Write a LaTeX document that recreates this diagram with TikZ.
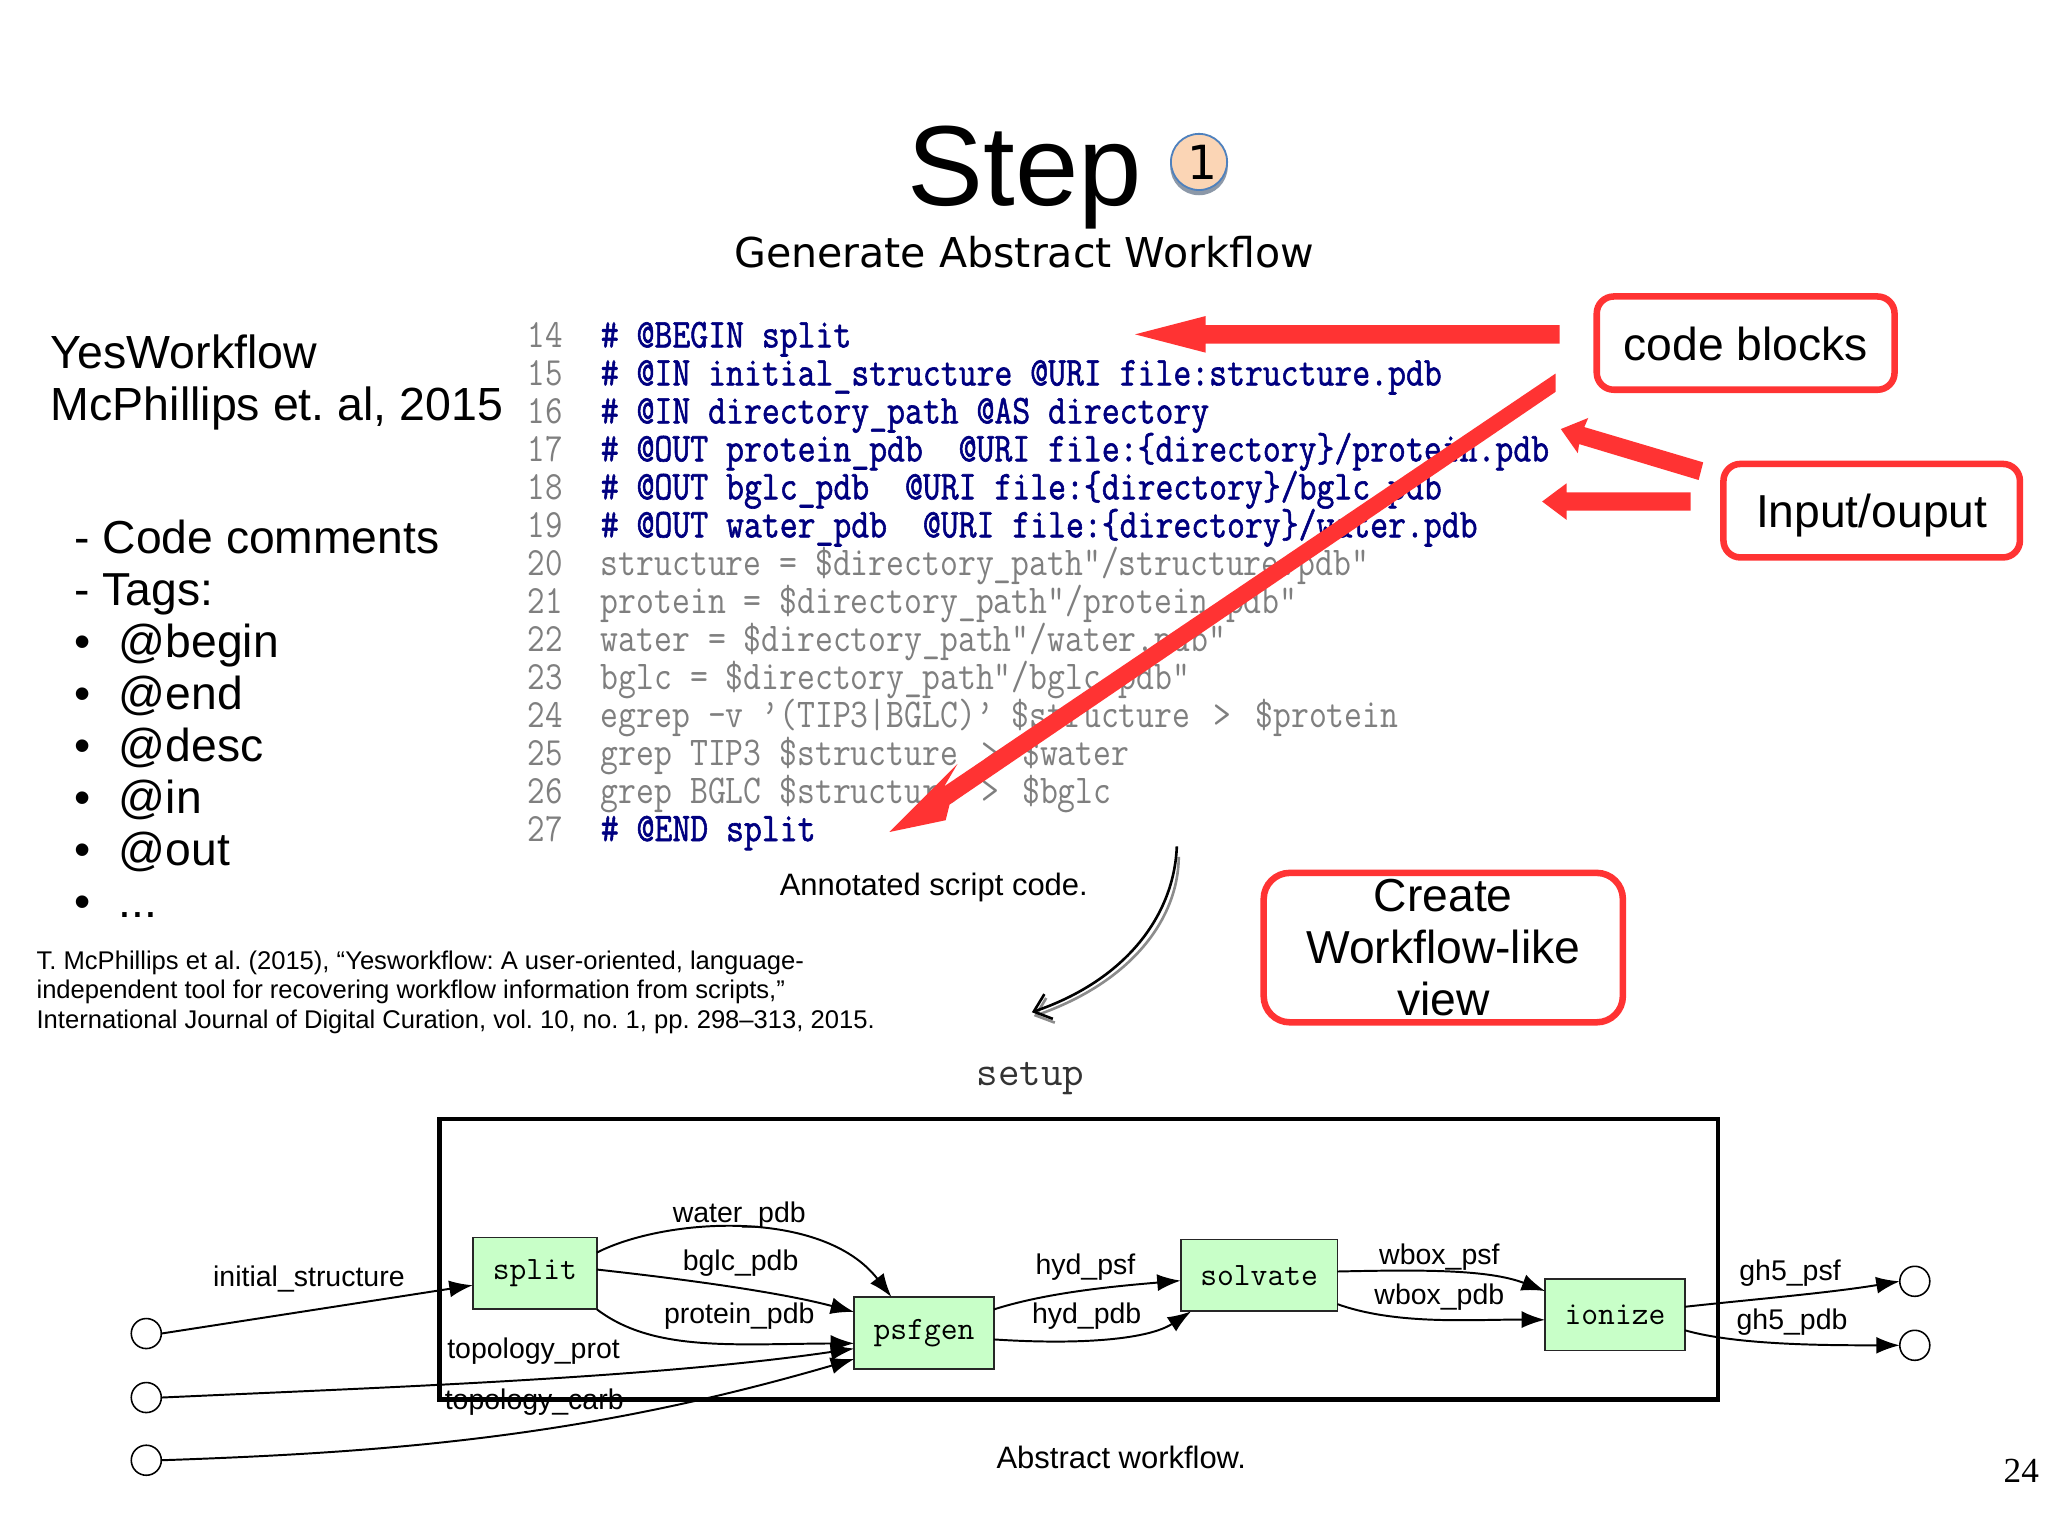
\documentclass[tikz,border=0pt]{standalone}
\usepackage{fontspec}
\setmainfont{Liberation Sans}
\newfontfamily\serifnum{Liberation Serif}
\newfontfamily\dejavu{DejaVu Sans}
\newfontfamily\codeheavy[FakeBold=1.5]{Latin Modern Mono}
\newcommand\tallcode[1]{\scalebox{1}[1.18]{#1}}
\usetikzlibrary{arrows.meta,calc}
\definecolor{redmark}{HTML}{FF3333}
\definecolor{navycode}{HTML}{000080}
\definecolor{greycode}{HTML}{7F7F7F}
\definecolor{greenbox}{HTML}{C8FFC8}
\definecolor{badgeshadow}{HTML}{8C98A8}
\definecolor{badgeline}{HTML}{4F81BD}
\definecolor{badgefill}{HTML}{FBD5B5}
\tikzset{
  txt/.style={inner sep=0pt,outer sep=0pt,anchor=base west,text=black},
  cnum/.style={txt,font=\fontsize{13}{15}\selectfont\ttfamily,text=greycode},
  cblue/.style={txt,font=\fontsize{13.3}{15}\selectfont\codeheavy,text=navycode},
  cgrey/.style={txt,font=\fontsize{13.28}{15}\selectfont\ttfamily,text=greycode},
  elab/.style={inner sep=0pt,outer sep=0pt,anchor=base,font=\fontsize{10.9}{12}\selectfont,text=black},
  wfnode/.style={draw=black!85,fill=greenbox,line width=0.7pt,inner sep=0pt,outer sep=0pt,minimum height=27.5pt,font=\fontsize{12.5}{14}\selectfont\ttfamily},
  port/.style={draw=black,fill=white,circle,line width=0.6pt,minimum size=11.5pt,inner sep=0pt,outer sep=0pt},
  flow/.style={line width=0.75pt,draw=black,-{Latex[length=9pt,width=6.5pt]}},
  redbox/.style={draw=redmark,line width=2.5pt,rounded corners=6.5pt,inner sep=0pt,outer sep=0pt,text=black,font=\fontsize{17.7}{20}\selectfont,align=center},
  redarrow/.style={fill=redmark,draw=none},
}
\frenchspacing
\begin{document}
\begin{tikzpicture}[x=0.5pt,y=-0.5pt]
\useasboundingbox[fill=white] (0,0) rectangle (1568,1175.2);
% title
\node[txt,font=\fontsize{43.6}{46}\selectfont] (title) at (695,157) {Step};
\fill[badgeshadow] (918,127.5) circle[radius=11pt];
\node[circle,draw=badgeline,fill=badgefill,line width=0.7pt,minimum size=21.5pt,inner sep=0pt,font=\fontsize{18}{20}\selectfont\dejavu] (badge) at (918,124) {\hspace{3pt}1};
\node[txt,anchor=base,font=\fontsize{15.74}{18}\selectfont\dejavu] (subtitle) at (784,205) {Generate Abstract Workflow};
% left text
\node[txt,anchor=north west,align=left,font=\fontsize{17.8}{20}\selectfont] (cite) at (39,256) {YesWorkflow\\McPhillips et. al, 2015};
\node[txt,anchor=north west,align=left,font=\fontsize{17.7}{19.9}\selectfont] (tags) at (57,398) {- Code comments\\- Tags:\\\makebox[17pt][l]{•}@begin\\\makebox[17pt][l]{•}@end\\\makebox[17pt][l]{•}@desc\\\makebox[17pt][l]{•}@in\\\makebox[17pt][l]{•}@out\\\makebox[17pt][l]{•}...};
\node[txt,anchor=north west,align=left,font=\fontsize{9.8}{11.25}\selectfont] (refs) at (28,728) {T. McPhillips et al. (2015), “Yesworkflow: A user-oriented, language-\\independent tool for recovering workflow information from scripts,”\\International Journal of Digital Curation, vol. 10, no. 1, pp. 298–313, 2015.};
% code
\node[cnum] (n14) at (404,266) {\tallcode{14}};
\node[cnum] (n15) at (404,295.1) {\tallcode{15}};
\node[cnum] (n16) at (404,324.2) {\tallcode{16}};
\node[cnum] (n17) at (404,353.2) {\tallcode{17}};
\node[cnum] (n18) at (404,382.3) {\tallcode{18}};
\node[cnum] (n19) at (404,411.4) {\tallcode{19}};
\node[cnum] (n20) at (404,440.5) {\tallcode{20}};
\node[cnum] (n21) at (404,469.6) {\tallcode{21}};
\node[cnum] (n22) at (404,498.6) {\tallcode{22}};
\node[cnum] (n23) at (404,527.7) {\tallcode{23}};
\node[cnum] (n24) at (404,556.8) {\tallcode{24}};
\node[cnum] (n25) at (404,585.9) {\tallcode{25}};
\node[cnum] (n26) at (404,615) {\tallcode{26}};
\node[cnum] (n27) at (404,644) {\tallcode{27}};
\node[cblue] (c14) at (460,266) {\tallcode{\# @BEGIN split}};
\node[cblue] (c15) at (460,295.1) {\tallcode{\# @IN initial\_structure @URI file:structure.pdb}};
\node[cblue] (c16) at (460,324.2) {\tallcode{\# @IN directory\_path @AS directory}};
\node[cblue] (c17) at (460,353.2) {\tallcode{\# @OUT protein\_pdb\ \ @URI file:\{directory\}/protein.pdb}};
\node[cblue] (c18) at (460,382.3) {\tallcode{\# @OUT bglc\_pdb\ \ @URI file:\{directory\}/bglc.pdb}};
\node[cblue] (c19) at (460,411.4) {\tallcode{\# @OUT water\_pdb\ \ @URI file:\{directory\}/water.pdb}};
\node[cgrey] (c20) at (460,440.5) {\tallcode{structure = \$directory\_path"/structure.pdb"}};
\node[cgrey] (c21) at (460,469.6) {\tallcode{protein = \$directory\_path"/protein.pdb"}};
\node[cgrey] (c22) at (460,498.6) {\tallcode{water = \$directory\_path"/water.pdb"}};
\node[cgrey] (c23) at (460,527.7) {\tallcode{bglc = \$directory\_path"/bglc.pdb"}};
\node[cgrey] (c24) at (460,556.8) {\tallcode{egrep —v ’(TIP3|BGLC)’ \$structure\hspace{2.2pt} > \hspace{2.2pt}\$protein}};
\node[cgrey] (c25) at (460,585.9) {\tallcode{grep TIP3 \$structure\hspace{2pt} > \hspace{2pt}\$water}};
\node[cgrey] (c26) at (460,615) {\tallcode{grep BGLC \$structure\hspace{2pt} > \hspace{2pt}\$bglc}};
\node[cblue] (c27) at (460,644) {\tallcode{\# @END split}};
% red arrows
\fill[redarrow] (1194,249) -- (923,249) -- (923,242) -- (869,256) -- (923,270) -- (923,263) -- (1194,263) -- cycle;
\fill[redarrow] (1191,286) -- (723,602) -- (733,585) -- (681,637) -- (724,628) -- (727,616) -- (1191,300) -- cycle;
\fill[redarrow] (1304,354) -- (1213,327) -- (1216,320) -- (1195,328.5) -- (1208,347) -- (1209,340) -- (1300.5,367.5) -- cycle;
\fill[redarrow] (1294.4,377) -- (1199.4,377) -- (1199.4,370) -- (1180.7,384) -- (1199.4,398) -- (1199.4,391) -- (1294.4,391) -- cycle;
% red boxes
\node[redbox,minimum width=114pt,minimum height=35.7pt] (codeblocks) at (1336.5,262.7) {\raisebox{-6.5pt}[0pt][0pt]{code blocks}};
\node[redbox,minimum width=113.5pt,minimum height=35.8pt] (inout) at (1433,391) {\raisebox{-6.5pt}[0pt][0pt]{Input/ouput}};
\node[redbox,rounded corners=10pt,minimum width=137.5pt,minimum height=57.2pt] (create) at (1105,725.5) {Create\\Workflow-like\\view};
% captions
\node[txt,font=\fontsize{11.85}{14}\selectfont] (cap1) at (597,686) {Annotated script code.};
\node[txt,font=\fontsize{11.85}{14}\selectfont] (cap2) at (763,1124) {Abstract workflow.};
\node[txt,anchor=base,font=\fontsize{16}{18}\selectfont\ttfamily,text=black!80] (setup) at (789,831) {setup};
\node[txt,font=\fontsize{13.5}{15}\selectfont\serifnum] (page) at (1534,1135) {24};
% curved arrow
\coordinate (cs) at (901,648);
\coordinate (ce) at (790,775);
\draw[black!45,line width=1pt,-{Straight Barb[length=6pt,width=10pt]}] ($(cs)+(1.5,8)$) .. controls (902,704) and (866,752) .. ($(ce)+(1.5,3)$);
\draw[black,line width=1pt,-{Straight Barb[length=6pt,width=10pt]}] (cs) .. controls (899,700) and (863,750) .. (ce);
% workflow
\draw[black,line width=1.6pt] (336.5,856.5) rectangle (1315.5,1071.5);
\node[port] (i1) at (112,1021) {};
\node[port] (i2) at (112,1070) {};
\node[port] (i3) at (112,1118) {};
\node[port] (o1) at (1466,981) {};
\node[port] (o2) at (1466,1030) {};
\node[wfnode,minimum width=47.5pt] (split) at (409.5,975) {split};
\node[wfnode,minimum width=53.5pt] (psfgen) at (707.5,1020.5) {psfgen};
\node[wfnode,minimum width=60pt] (solvate) at (964,976.5) {solvate};
\node[wfnode,minimum width=53.5pt] (ionize) at (1236.5,1006.5) {ionize};
\draw[flow] (i1.east) -- ([yshift=-4.5pt]split.west);
\draw[flow] ([yshift=8pt]split.east) .. controls (510,932) and (630,925) .. ([xshift=-12.5pt]psfgen.north);
\draw[flow] ([yshift=1.5pt]split.east) .. controls (530,980) and (600,990) .. ([yshift=8pt]psfgen.west);
\draw[flow] (split.south east) .. controls (500,1035) and (560,1029) .. ([yshift=-4pt]psfgen.west);
\draw[flow] (i2.east) .. controls (300,1062) and (500,1055) .. ([yshift=-6pt]psfgen.west);
\draw[flow] (i3.east) .. controls (300,1112) and (450,1100) .. ([yshift=-10pt]psfgen.west);
\draw[flow] ([yshift=9pt]psfgen.east) .. controls (800,990) and (850,985) .. ([yshift=-2pt]solvate.west);
\draw[flow] ([yshift=-2.5pt]psfgen.east) .. controls (830,1030) and (880,1025) .. ([xshift=-26pt]solvate.south);
\draw[flow] ([yshift=1.5pt]solvate.east) .. controls (1090,972) and (1140,972) .. ([yshift=9pt]ionize.west);
\draw[flow] ([yshift=-11pt]solvate.east) .. controls (1070,1015) and (1130,1010) .. ([yshift=-2pt]ionize.west);
\draw[flow] ([yshift=3pt]ionize.east) .. controls (1340,995) and (1400,990) .. (o1.west);
\draw[flow] ([yshift=-6pt]ionize.east) .. controls (1330,1030) and (1400,1030) .. (o2.west);
\node[elab] (linit) at (236.5,985) {initial\_structure};
\node[elab] (lwater) at (566,936) {water\_pdb};
\node[elab] (lbglc) at (567,973) {bglc\_pdb};
\node[elab] (lprot) at (566,1013) {protein\_pdb};
\node[elab] (ltprot) at (408.5,1040) {topology\_prot};
\node[elab] (ltcarb) at (409,1079) {topology\_carb};
\node[elab] (lhpsf) at (831,976) {hyd\_psf};
\node[elab] (lhpdb) at (832,1013) {hyd\_pdb};
\node[elab] (lwpsf) at (1102,968) {wbox\_psf};
\node[elab] (lwpdb) at (1102,999) {wbox\_pdb};
\node[elab] (lgpsf) at (1370.5,980) {gh5\_psf};
\node[elab] (lgpdb) at (1372,1018) {gh5\_pdb};
\end{tikzpicture}
\end{document}
